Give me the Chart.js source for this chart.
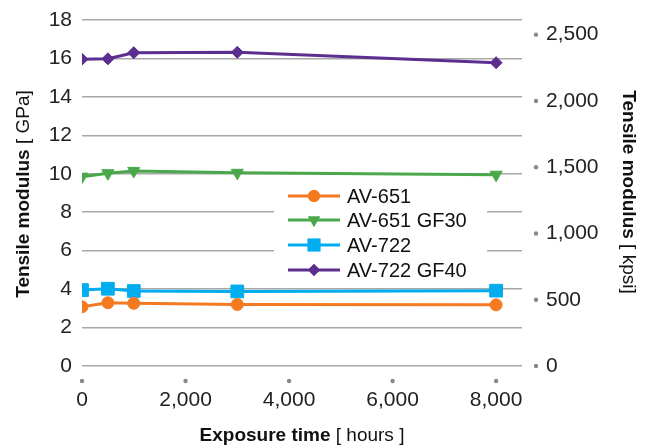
<!DOCTYPE html>
<html>
<head>
<meta charset="utf-8">
<script src="https://cdn.jsdelivr.net/npm/chart.js@4.4.1/dist/chart.umd.min.js"></script>
<style>
  html, body { margin: 0; padding: 0; background: #fff; }
  #wrap { width: 654px; height: 448px; }
</style>
</head>
<body>
<div id="wrap"><canvas id="chart" width="654" height="448"></canvas></div>
<script>
// exposure time in hours
const hours = [0, 500, 1000, 3000, 8000];
// tensile modulus, GPa
const av651 = [3.08, 3.29, 3.26, 3.2, 3.18];
const av651gf30 = [9.85, 10.03, 10.15, 10.05, 9.95];
const av722 = [3.95, 4.02, 3.9, 3.88, 3.92];
const av722gf40 = [15.96, 15.98, 16.3, 16.32, 15.78];

const seriesNames = ['AV-651', 'AV-651 GF30', 'AV-722', 'AV-722 GF40'];
const xTicks = [0, 2000, 4000, 6000, 8000];
const gpaTicks = [0, 2, 4, 6, 8, 10, 12, 14, 16, 18];
const kpsiTicks = [0, 500, 1000, 1500, 2000, 2500];
const GPA_TO_KPSI = 145.038;

const FONT = '"Liberation Sans", Arial, Helvetica, sans-serif';
const tickColor = '#222';

function pts(vals) {
    return hours.map((h, i) => ({ x: h, y: vals[i] }));
}

function ds(label, vals, color, style, radius, rotation) {
    return {
        label: label,
        data: pts(vals),
        borderColor: color,
        backgroundColor: color,
        borderWidth: 3,
        pointStyle: style,
        pointRadius: radius,
        pointHoverRadius: radius,
        pointRotation: rotation || 0,
        pointBorderWidth: 1,
        tension: 0,
        yAxisID: 'y'
    };
}

const datasets = [
    ds(seriesNames[0], av651, '#f47a21', 'circle', 6),
    ds(seriesNames[1], av651gf30, '#4aa84a', 'triangle', 7, 180),
    ds(seriesNames[2], av722, '#00adee', 'rect', 9),
    ds(seriesNames[3], av722gf40, '#5b2e8f', 'rectRot', 6)
];

// vertical axes: keep label overflow from pushing the plot down
function fixVert(width) {
    return s => {
        s.width = width;
        s.paddingTop = 0;
        s.paddingBottom = 0;
    };
}

// dots for ticks, titles with mixed weight, and the boxed legend
const decor = {
    id: 'decor',
    afterDraw(chart) {
        const c = chart.ctx;
        const xs = chart.scales.x, y2 = chart.scales.y2;
        c.save();
        c.fillStyle = '#888';
        xTicks.forEach(v => {
            c.beginPath();
            c.arc(xs.getPixelForValue(v), 381, 2.2, 0, Math.PI * 2);
            c.fill();
        });
        kpsiTicks.forEach(v => {
            c.beginPath();
            c.arc(536, y2.getPixelForValue(v), 2.2, 0, Math.PI * 2);
            c.fill();
        });

        function mixed(bold, normal, x, y, rot) {
            c.save();
            c.translate(x, y);
            c.rotate(rot);
            c.fillStyle = '#111';
            c.textBaseline = 'middle';
            c.font = 'bold 19px ' + FONT;
            const w1 = c.measureText(bold).width;
            c.font = '19px ' + FONT;
            const w2 = c.measureText(normal).width;
            const x0 = -(w1 + w2) / 2;
            c.textAlign = 'left';
            c.font = 'bold 19px ' + FONT;
            c.fillText(bold, x0, 0);
            c.font = '19px ' + FONT;
            c.fillText(normal, x0 + w1, 0);
            c.restore();
        }
        mixed('Tensile modulus', ' [ GPa]', 24, 194, -Math.PI / 2);
        mixed('Tensile modulus', ' [ kpsi]', 628, 192, Math.PI / 2);
        mixed('Exposure time', ' [ hours ]', 302, 436, 0);

        // legend
        c.fillStyle = '#fff';
        c.fillRect(274, 184, 213, 98);
        const rowY = [196, 220, 245, 270];
        chart.data.datasets.forEach((d, i) => {
            const y = rowY[i];
            c.strokeStyle = d.borderColor;
            c.lineWidth = 3;
            c.beginPath();
            c.moveTo(288, y);
            c.lineTo(340, y);
            c.stroke();
            c.fillStyle = d.backgroundColor;
            Chart.helpers.drawPoint(c, {
                pointStyle: d.pointStyle,
                radius: d.pointRadius,
                rotation: d.pointRotation,
                borderWidth: 0
            }, 314, y);
            c.fill();
            c.fillStyle = '#111';
            c.font = '20px ' + FONT;
            c.textAlign = 'left';
            c.textBaseline = 'middle';
            c.fillText(d.label, 347, y + 1);
        });
        c.restore();
    }
};

new Chart(document.getElementById('chart'), {
    type: 'line',
    data: { datasets: datasets },
    options: {
        responsive: false,
        animation: false,
        layout: { padding: { top: 20, left: 0, right: 0, bottom: 0 } },
        plugins: {
            legend: { display: false },
            tooltip: { enabled: false }
        },
        scales: {
            x: {
                type: 'linear',
                min: 0,
                max: 8500,
                afterFit: s => { s.height = 82; },
                afterBuildTicks: s => { s.ticks = xTicks.map(v => ({ value: v })); },
                grid: { display: false, drawTicks: false },
                border: { display: false },
                ticks: {
                    padding: 22,
                    color: tickColor,
                    font: { family: FONT, size: 21 },
                    maxRotation: 0,
                    callback: v => v.toLocaleString('en-US')
                }
            },
            y: {
                position: 'left',
                min: 0,
                max: 18,
                afterFit: fixVert(82),
                afterBuildTicks: s => { s.ticks = gpaTicks.map(v => ({ value: v })); },
                grid: { color: '#a8a8a8', lineWidth: 1.5, drawTicks: false },
                border: { display: false },
                ticks: {
                    padding: 10,
                    color: tickColor,
                    font: { family: FONT, size: 21 }
                }
            },
            y2: {
                position: 'right',
                min: 0,
                max: 18 * GPA_TO_KPSI,
                afterFit: fixVert(132),
                afterBuildTicks: s => { s.ticks = kpsiTicks.map(v => ({ value: v })); },
                grid: { display: false, drawTicks: false },
                border: { display: false },
                ticks: {
                    padding: 24,
                    color: tickColor,
                    font: { family: FONT, size: 21 },
                    callback: v => v.toLocaleString('en-US')
                }
            }
        }
    },
    plugins: [decor]
});
</script>
</body>
</html>
